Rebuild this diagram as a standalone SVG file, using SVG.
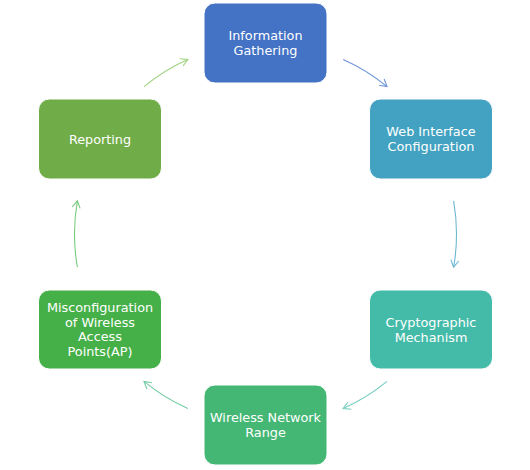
<svg xmlns="http://www.w3.org/2000/svg" width="530" height="470" viewBox="0 0 530 470">
<style>
.box{stroke:#ffffff;stroke-width:1}
.lbl{font-family:"DejaVu Sans","Liberation Sans",sans-serif;font-size:12.8px;fill:#ffffff;text-anchor:middle}
.arc{fill:none;stroke-width:1.1}
</style>
<defs>
<marker id="ah1" markerWidth="10" markerHeight="10" refX="8" refY="5" orient="auto" markerUnits="userSpaceOnUse"><path d="M1,1 L8,5 L1,9" fill="none" stroke="#6F95DA" stroke-width="1.1"/></marker>
<marker id="ah2" markerWidth="10" markerHeight="10" refX="8" refY="5" orient="auto" markerUnits="userSpaceOnUse"><path d="M1,1 L8,5 L1,9" fill="none" stroke="#6DB7D2" stroke-width="1.1"/></marker>
<marker id="ah3" markerWidth="10" markerHeight="10" refX="8" refY="5" orient="auto" markerUnits="userSpaceOnUse"><path d="M1,1 L8,5 L1,9" fill="none" stroke="#71CDBE" stroke-width="1.1"/></marker>
<marker id="ah4" markerWidth="10" markerHeight="10" refX="8" refY="5" orient="auto" markerUnits="userSpaceOnUse"><path d="M1,1 L8,5 L1,9" fill="none" stroke="#74CCA2" stroke-width="1.1"/></marker>
<marker id="ah5" markerWidth="10" markerHeight="10" refX="8" refY="5" orient="auto" markerUnits="userSpaceOnUse"><path d="M1,1 L8,5 L1,9" fill="none" stroke="#78CB7E" stroke-width="1.1"/></marker>
<marker id="ah6" markerWidth="10" markerHeight="10" refX="8" refY="5" orient="auto" markerUnits="userSpaceOnUse"><path d="M1,1 L8,5 L1,9" fill="none" stroke="#9ED27E" stroke-width="1.1"/></marker>
</defs>
<rect width="530" height="470" fill="#ffffff"/>
<g id="connectors">
<path class="arc" stroke="#6F95DA" marker-end="url(#ah1)" d="M343.2,59.5 A191,191 0 0 1 387,86.6"/>
<path class="arc" stroke="#6DB7D2" marker-end="url(#ah2)" d="M453.6,200.8 A191,191 0 0 1 453.6,267.2"/>
<path class="arc" stroke="#71CDBE" marker-end="url(#ah3)" d="M387,381.4 A191,191 0 0 1 343.2,408.5"/>
<path class="arc" stroke="#74CCA2" marker-end="url(#ah4)" d="M187.8,408.5 A191,191 0 0 1 144,381.4"/>
<path class="arc" stroke="#78CB7E" marker-end="url(#ah5)" d="M77.4,267.2 A191,191 0 0 1 77.4,200.8"/>
<path class="arc" stroke="#9ED27E" marker-end="url(#ah6)" d="M144,86.6 A191,191 0 0 1 187.8,59.5"/>
</g>
<g id="node-information-gathering">
<rect class="box" x="204" y="3" width="123" height="80" rx="11" fill="#4472C4"/>
<text class="lbl" x="265.5" y="40">Information</text>
<text class="lbl" x="265.5" y="55">Gathering</text>
</g>
<g id="node-web-interface">
<rect class="box" x="369.5" y="99" width="123" height="80" rx="11" fill="#43A2C1"/>
<text class="lbl" x="431" y="136">Web Interface</text>
<text class="lbl" x="431" y="151">Configuration</text>
</g>
<g id="node-cryptographic">
<rect class="box" x="369.5" y="290" width="123" height="79" rx="11" fill="#44BBA8"/>
<text class="lbl" x="431" y="326.5">Cryptographic</text>
<text class="lbl" x="431" y="341.5">Mechanism</text>
</g>
<g id="node-wireless-range">
<rect class="box" x="204" y="385" width="123" height="80" rx="11" fill="#45B775"/>
<text class="lbl" x="265.5" y="422">Wireless Network</text>
<text class="lbl" x="265.5" y="437">Range</text>
</g>
<g id="node-misconfiguration">
<rect class="box" x="38.5" y="290" width="123" height="79" rx="11" fill="#46B048"/>
<text class="lbl" x="100" y="311.7">Misconfiguration</text>
<text class="lbl" x="100" y="326.5">of Wireless</text>
<text class="lbl" x="100" y="341.3">Access</text>
<text class="lbl" x="100" y="356.1">Points(AP)</text>
</g>
<g id="node-reporting">
<rect class="box" x="38.5" y="99" width="123" height="80" rx="11" fill="#70AC47"/>
<text class="lbl" x="100" y="143.5">Reporting</text>
</g>
</svg>
